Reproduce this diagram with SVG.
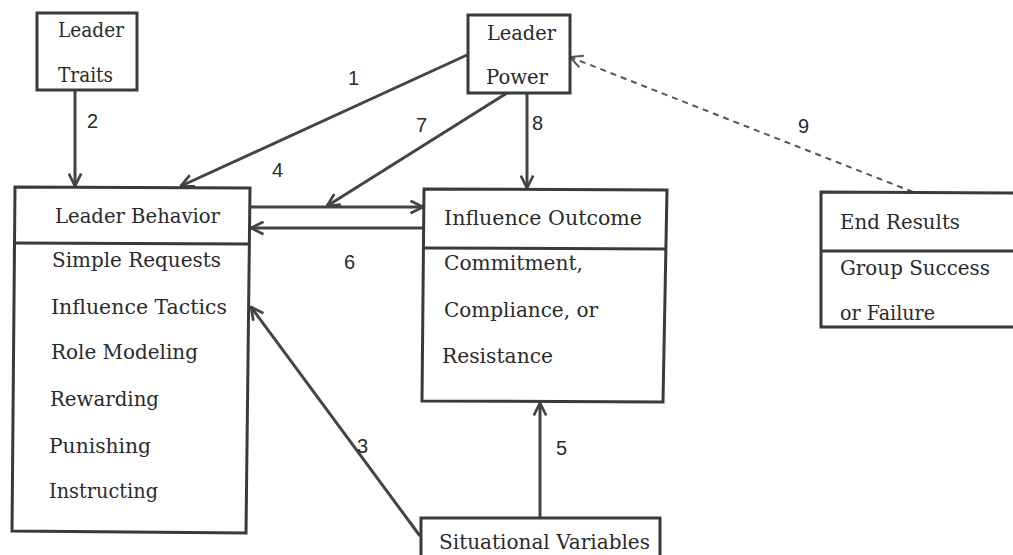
<svg xmlns="http://www.w3.org/2000/svg" width="1013" height="555" viewBox="0 0 1013 555">
  <defs>
    <style>
      .box { fill: none; stroke: #3a3a3a; stroke-width: 3; stroke-linejoin: miter; }
      .t { font-family: "DejaVu Serif", "Liberation Serif", serif; font-size: 20px; fill: #2a2a2a; }
      .n { font-family: "Liberation Sans", Arial, sans-serif; font-size: 20px; fill: #2a2a2a; }
      .c { fill: none; stroke: #444; stroke-width: 3; }
      .d { fill: none; stroke: #555; stroke-width: 2; stroke-dasharray: 6 5; }
    </style>
    <marker id="arr" viewBox="0 0 12 12" refX="11" refY="6" markerWidth="15" markerHeight="15" markerUnits="userSpaceOnUse" orient="auto">
      <path d="M1,1 L11,6 L1,11" fill="none" stroke="#444" stroke-width="2.2"/>
    </marker>
    <marker id="arrd" viewBox="0 0 12 12" refX="11" refY="6" markerWidth="15" markerHeight="15" markerUnits="userSpaceOnUse" orient="auto">
      <path d="M1,1 L11,6 L1,11" fill="none" stroke="#555" stroke-width="1.6"/>
    </marker>
  </defs>
  <rect width="1013" height="555" fill="#ffffff"/>

  <g id="connectors">
    <line class="c" x1="75" y1="90" x2="75" y2="186" marker-end="url(#arr)"/>
    <line class="c" x1="467" y1="55" x2="181" y2="186" marker-end="url(#arr)"/>
    <line class="c" x1="507" y1="93" x2="327" y2="206" marker-end="url(#arr)"/>
    <line class="c" x1="527" y1="93" x2="527" y2="188" marker-end="url(#arr)"/>
    <line class="c" x1="250" y1="207" x2="423" y2="207" marker-end="url(#arr)"/>
    <line class="c" x1="423" y1="228" x2="251" y2="228" marker-end="url(#arr)"/>
    <line class="c" x1="420" y1="536" x2="251" y2="307" marker-end="url(#arr)"/>
    <line class="c" x1="540" y1="518" x2="540" y2="403" marker-end="url(#arr)"/>
    <line class="d" x1="913" y1="192" x2="570" y2="57" marker-end="url(#arrd)"/>
    <text class="n" x="87" y="128">2</text>
    <text class="n" x="348" y="85">1</text>
    <text class="n" x="272" y="177">4</text>
    <text class="n" x="416" y="132">7</text>
    <text class="n" x="532" y="130">8</text>
    <text class="n" x="344" y="269">6</text>
    <text class="n" x="357" y="453">3</text>
    <text class="n" x="556" y="455">5</text>
    <text class="n" x="798" y="133">9</text>
  </g>

  <g id="leader-traits">
    <rect class="box" x="37" y="13" width="100" height="77"/>
    <text class="t" x="58" y="37" textLength="66" lengthAdjust="spacingAndGlyphs">Leader</text>
    <text class="t" x="58" y="82" textLength="55" lengthAdjust="spacingAndGlyphs">Traits</text>
  </g>

  <g id="leader-power">
    <rect class="box" x="468" y="15" width="102" height="78"/>
    <text class="t" x="487" y="40" textLength="69" lengthAdjust="spacingAndGlyphs">Leader</text>
    <text class="t" x="486" y="84" textLength="62" lengthAdjust="spacingAndGlyphs">Power</text>
  </g>

  <g id="leader-behavior">
    <path class="box" d="M15,187 L250,188 L246,533 L12,531 Z"/>
    <line class="box" x1="14" y1="243" x2="249" y2="244"/>
    <text class="t" x="55" y="223" textLength="165" lengthAdjust="spacingAndGlyphs">Leader Behavior</text>
    <text class="t" x="52" y="267" textLength="169" lengthAdjust="spacingAndGlyphs">Simple Requests</text>
    <text class="t" x="51" y="314" textLength="176" lengthAdjust="spacingAndGlyphs">Influence Tactics</text>
    <text class="t" x="51" y="359" textLength="147" lengthAdjust="spacingAndGlyphs">Role Modeling</text>
    <text class="t" x="50" y="406" textLength="109" lengthAdjust="spacingAndGlyphs">Rewarding</text>
    <text class="t" x="49" y="453" textLength="102" lengthAdjust="spacingAndGlyphs">Punishing</text>
    <text class="t" x="49" y="498" textLength="109" lengthAdjust="spacingAndGlyphs">Instructing</text>
  </g>

  <g id="influence-outcome">
    <path class="box" d="M424,189 L667,190 L663,402 L422,401 Z"/>
    <line class="box" x1="423" y1="248" x2="666" y2="249"/>
    <text class="t" x="444" y="225" textLength="198" lengthAdjust="spacingAndGlyphs">Influence Outcome</text>
    <text class="t" x="444" y="270" textLength="139" lengthAdjust="spacingAndGlyphs">Commitment,</text>
    <text class="t" x="444" y="317" textLength="154" lengthAdjust="spacingAndGlyphs">Compliance, or</text>
    <text class="t" x="442" y="363" textLength="111" lengthAdjust="spacingAndGlyphs">Resistance</text>
  </g>

  <g id="situational-variables">
    <path class="box" d="M421,560 L421,518 L660,518 L660,560"/>
    <text class="t" x="439" y="549" textLength="211" lengthAdjust="spacingAndGlyphs">Situational Variables</text>
  </g>

  <g id="end-results">
    <path class="box" d="M1020,193 L821,192 L821,327 L1020,327"/>
    <line class="box" x1="821" y1="251" x2="1020" y2="251"/>
    <text class="t" x="840" y="229" textLength="120" lengthAdjust="spacingAndGlyphs">End Results</text>
    <text class="t" x="840" y="275" textLength="150" lengthAdjust="spacingAndGlyphs">Group Success</text>
    <text class="t" x="840" y="320" textLength="95" lengthAdjust="spacingAndGlyphs">or Failure</text>
  </g>
</svg>
